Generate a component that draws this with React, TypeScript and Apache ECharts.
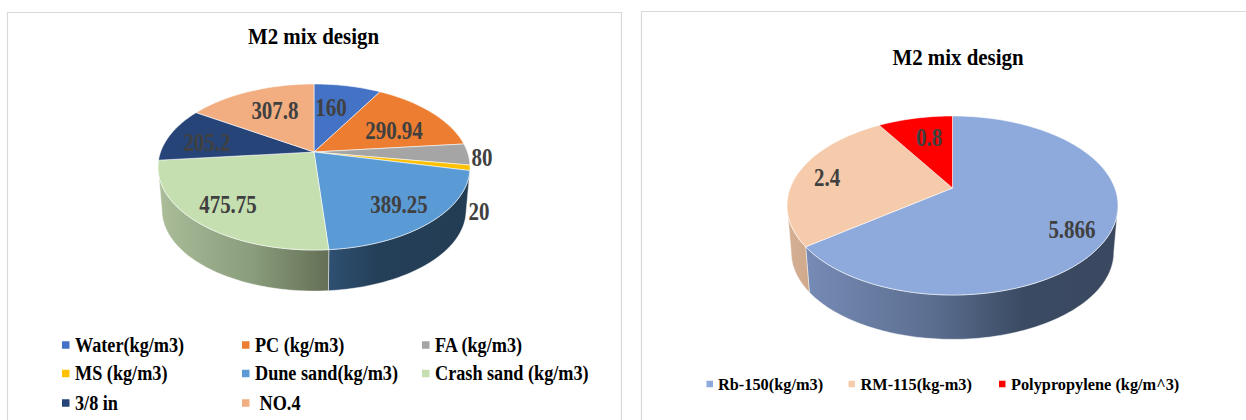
import React, { useEffect, useRef } from "react";
import * as echarts from "echarts";

const SERIF = '"Liberation Serif", "Times New Roman", serif';

// Left pie: mix quantities
const mixNames = ["Water(kg/m3)", "PC (kg/m3)", "FA (kg/m3)", "MS (kg/m3)", "Dune sand(kg/m3)", "Crash sand (kg/m3)", "3/8 in", " NO.4"];
const mixValues = [160, 290.94, 80, 20, 389.25, 475.75, 205.2, 307.8];
const mixColors = ["#4472C4", "#ED7D31", "#A5A5A5", "#FFC000", "#5B9BD5", "#C5DFB0", "#264478", "#F2AE80"];

// Right pie: fibre quantities
const fibreNames = ["Rb-150(kg/m3)", "RM-115(kg-m3)", "Polypropylene (kg/m^3)"];
const fibreValues = [5.866, 2.4, 0.8];
const fibreColors = ["#8EA9DB", "#F5CBAB", "#FF0000"];

// Wall shading per slice, left to right: [offset, colour] stops
const mixWalls: any[] = [
  null, null, null,
  [[0, "#7F6000"], [1, "#7F6000"]],
  [[0, "#2F5072"], [0.35, "#243F58"], [1, "#223D53"]],
  [[0, "#ABBD99"], [0.55, "#8A9D7C"], [1, "#646F55"]],
  null, null,
];
const fibreWalls: any[] = [
  [[0, "#768BB5"], [0.4, "#5C6F91"], [0.7, "#3A4A62"], [1, "#3A4960"]],
  [[0, "#D6B094"], [1, "#CFA98C"]],
  null,
];

// Pie placement on the page. apex is the projected centre of the disc.
const mixPie = { apexX: 314, apexY: 152, halfWidth: 156, far: 68, near: 98, depth: 43.5, shrink: 0.975 };
const fibrePie = { apexX: 952.5, apexY: 188, halfWidth: 165.5, far: 72, near: 107, depth: 47, shrink: 0.975 };

// Where each value label sits
const mixLabelSpots = [[331, 107], [394, 130], [482, 157], [479, 211], [399, 204], [228, 204], [207, 142], [275, 110]];
const fibreLabelSpots = [[1072, 229], [827, 177], [929, 137]];

// Perspective view of a unit disc; theta runs clockwise from 12 o'clock.
function makeProjection(p: any) {
  const ratio = p.near / p.far;
  const k = (ratio - 1) / (ratio + 1);
  const a = p.far * (1 + k);
  const c = p.halfWidth * Math.sqrt(1 - k * k);
  const rim = (t: number) => {
    const w = 1 + k * Math.cos(t);
    return [p.apexX + (c * Math.sin(t)) / w, p.apexY - (a * Math.cos(t)) / w];
  };
  const base = (t: number) => {
    const q = rim(t);
    return [p.apexX + (q[0] - p.apexX) * p.shrink, p.apexY + (q[1] - p.apexY) * p.shrink + p.depth];
  };
  return { rim, base, edge: Math.acos(-k) };
}

function arcPoints(fn: (t: number) => number[], from: number, to: number) {
  const n = Math.max(2, Math.ceil(Math.abs(to - from) / 0.02));
  const pts: number[][] = [];
  for (let i = 0; i <= n; i++) pts.push(fn(from + ((to - from) * i) / n));
  return pts;
}

function sliceAngles(values: number[]) {
  const total = values.reduce((s, v) => s + v, 0);
  let acc = 0;
  return values.map((v) => {
    const start = (acc / total) * 2 * Math.PI;
    acc += v;
    return [start, (acc / total) * 2 * Math.PI];
  });
}

function pieSeries(values: number[], colors: string[], walls: any[], pie: any, spots: number[][]) {
  const proj = makeProjection(pie);
  const angles = sliceAngles(values);
  const wallSeries = {
    type: "custom",
    coordinateSystem: "none",
    silent: true,
    z: 2,
    data: values.map((v) => [v]),
    renderItem: (params: any) => {
      const [a0, a1] = angles[params.dataIndex];
      const lo = Math.max(a0, proj.edge);
      const hi = Math.min(a1, 2 * Math.PI - proj.edge);
      const stops = walls[params.dataIndex];
      if (hi <= lo || !stops) return { type: "group", children: [] };
      const points = arcPoints(proj.rim, lo, hi).concat(arcPoints(proj.base, hi, lo));
      return {
        type: "polygon",
        shape: { points },
        style: {
          fill: new echarts.graphic.LinearGradient(0, 0, 1, 0, stops.map((s: any) => ({ offset: s[0], color: s[1] }))),
          stroke: "rgba(255,255,255,0.75)",
          lineWidth: 0.6,
        },
      };
    },
  };
  const faceSeries = {
    type: "custom",
    coordinateSystem: "none",
    silent: true,
    z: 3,
    data: values.map((v) => [v]),
    renderItem: (params: any) => {
      const [a0, a1] = angles[params.dataIndex];
      const points = [[pie.apexX, pie.apexY]].concat(arcPoints(proj.rim, a0, a1));
      return {
        type: "polygon",
        shape: { points },
        style: { fill: colors[params.dataIndex], stroke: "rgba(255,255,255,0.8)", lineWidth: 0.7 },
      };
    },
  };
  const labelSeries = {
    type: "custom",
    coordinateSystem: "none",
    silent: true,
    z: 4,
    data: values.map((v) => [v]),
    renderItem: (params: any, api: any) => ({
      type: "text",
      x: spots[params.dataIndex][0],
      y: spots[params.dataIndex][1],
      scaleX: 0.84,
      style: {
        text: String(api.value(0)),
        font: `bold 25px ${SERIF}`,
        fill: "#404040",
        textAlign: "center",
        textVerticalAlign: "middle",
        align: "center",
        verticalAlign: "middle",
      },
    }),
  };
  return [wallSeries, faceSeries, labelSeries];
}

function titleText(text: string, x: number, y: number) {
  return {
    type: "text",
    x,
    y,
    scaleX: 0.87,
    z: 5,
    style: {
      text,
      font: `bold 24px ${SERIF}`,
      fill: "#000000",
      textAlign: "center",
      textVerticalAlign: "middle",
      align: "center",
      verticalAlign: "middle",
    },
  };
}

function legendEntry(name: string, color: string, swatchX: number, textX: number, y: number, size: number, scale: number, box: number) {
  return [
    { type: "rect", z: 5, shape: { x: swatchX, y: y - box / 2, width: box, height: box }, style: { fill: color } },
    {
      type: "text",
      x: textX,
      y,
      scaleX: scale,
      z: 5,
      style: {
        text: name,
        font: `bold ${size}px ${SERIF}`,
        fill: "#000000",
        textAlign: "left",
        textVerticalAlign: "middle",
        align: "left",
        verticalAlign: "middle",
      },
    },
  ];
}

function buildGraphics() {
  const items: any[] = [
    { type: "rect", z: 0, shape: { x: 7.5, y: 12.5, width: 614, height: 430 }, style: { fill: "#fff", stroke: "#D9D9D9", lineWidth: 1.2 } },
    { type: "rect", z: 0, shape: { x: 641.5, y: 11.5, width: 630, height: 430 }, style: { fill: "#fff", stroke: "#D9D9D9", lineWidth: 1.2 } },
    titleText("M2 mix design", 313.5, 36),
    titleText("M2 mix design", 958, 57),
  ];
  const swatchCols = [62, 242, 422];
  const textCols = [75, 255, 435];
  const rows = [345, 373.5, 403];
  mixNames.forEach((name, i) => {
    const col = i % 3;
    const row = Math.floor(i / 3);
    items.push(...legendEntry(name, mixColors[i], swatchCols[col], textCols[col], rows[row], 20, 0.91, 7.5));
  });
  const fibreSwatches = [706.5, 848.5, 999];
  const fibreTexts = [718, 860.5, 1011];
  fibreNames.forEach((name, i) => {
    items.push(...legendEntry(name, fibreColors[i], fibreSwatches[i], fibreTexts[i], 384, 17, 0.96, 6.5));
  });
  return items;
}

export default function App() {
  const ref = useRef<HTMLDivElement>(null);
  useEffect(() => {
    document.body.style.margin = "0";
    const chart = echarts.init(ref.current!, null, { renderer: "svg" });
    chart.setOption({
      animation: false,
      backgroundColor: "#ffffff",
      graphic: { elements: buildGraphics() },
      series: [
        ...pieSeries(mixValues, mixColors, mixWalls, mixPie, mixLabelSpots),
        ...pieSeries(fibreValues, fibreColors, fibreWalls, fibrePie, fibreLabelSpots),
      ],
    });
    return () => chart.dispose();
  }, []);
  return <div ref={ref} style={{ width: 1246, height: 420 }} />;
}
